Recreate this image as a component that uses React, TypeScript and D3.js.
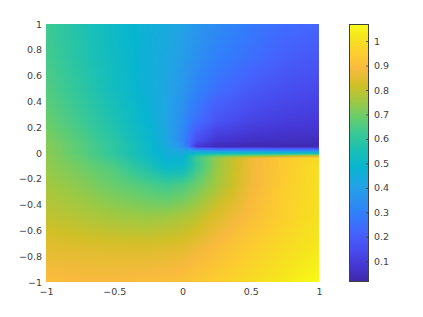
import React, { useRef, useEffect } from 'react';
import * as d3 from 'd3';

// grid nodes the values were read at
const gridX = [-1, -0.75, -0.5, -0.25, -0.12, 0, 0.05, 0.1, 0.25, 0.5, 0.75, 1];
const gridY = [1, 0.75, 0.5, 0.25, 0.1, 0.05, 0.03, 0, -0.02, -0.04, -0.1, -0.25, -0.5, -0.75, -1];

const row1 = [0.63, 0.57, 0.51, 0.46, 0.44, 0.41, 0.39, 0.37, 0.33, 0.28, 0.24, 0.22];
const row2 = [0.64, 0.58, 0.52, 0.46, 0.43, 0.39, 0.37, 0.35, 0.3, 0.25, 0.205, 0.18];
const row3 = [0.66, 0.6, 0.53, 0.46, 0.42, 0.37, 0.34, 0.31, 0.25, 0.19, 0.155, 0.135];
const row4 = [0.69, 0.63, 0.56, 0.48, 0.42, 0.34, 0.29, 0.25, 0.17, 0.12, 0.1, 0.09];
const row5 = [0.72, 0.66, 0.59, 0.5, 0.43, 0.32, 0.24, 0.16, 0.08, 0.06, 0.055, 0.05];
const row6 = [0.73, 0.67, 0.6, 0.51, 0.44, 0.35, 0.24, 0.08, 0.035, 0.03, 0.03, 0.03];
const row7 = [0.73, 0.67, 0.6, 0.51, 0.45, 0.4, 0.37, 0.3, 0.24, 0.23, 0.22, 0.22];
const row8 = [0.73, 0.67, 0.6, 0.51, 0.46, 0.43, 0.47, 0.49, 0.5, 0.5, 0.5, 0.5];
const row9 = [0.735, 0.68, 0.61, 0.52, 0.46, 0.45, 0.52, 0.58, 0.66, 0.7, 0.74, 0.78];
const row10 = [0.735, 0.68, 0.62, 0.53, 0.47, 0.47, 0.54, 0.62, 0.74, 0.87, 0.94, 0.99];
const row11 = [0.74, 0.7, 0.65, 0.56, 0.5, 0.5, 0.55, 0.61, 0.74, 0.87, 0.94, 1.0];
const row12 = [0.76, 0.73, 0.69, 0.65, 0.63, 0.65, 0.67, 0.69, 0.76, 0.87, 0.95, 1.0];
const row13 = [0.8, 0.78, 0.76, 0.75, 0.755, 0.77, 0.78, 0.79, 0.84, 0.9, 0.96, 1.01];
const row14 = [0.85, 0.845, 0.84, 0.84, 0.845, 0.85, 0.86, 0.87, 0.9, 0.95, 0.99, 1.03];
const row15 = [0.9, 0.89, 0.89, 0.9, 0.905, 0.91, 0.92, 0.93, 0.95, 0.99, 1.03, 1.07];
const rows = [row1, row2, row3, row4, row5, row6, row7, row8, row9, row10, row11, row12, row13, row14, row15];

const parula = ['#3e26a8', '#4537d5', '#484df0', '#4563fd', '#327cfc', '#2b91ef', '#20a5e3', '#08b5d0', '#19bfb6',
  '#37c897', '#64cd6f', '#9dc943', '#d1bf27', '#f8ba3d', '#fcce2e', '#f5e51d', '#f9fb15'];
const parulaStops = [0, 4, 8, 12, 16, 20, 24, 28, 32, 36, 40, 44, 48, 52, 56, 60, 63].map(i => i / 63);

const xTicks = [-1, -0.5, 0, 0.5, 1];
const yTicks = [-1, -0.8, -0.6, -0.4, -0.2, 0, 0.2, 0.4, 0.6, 0.8, 1];
const barTicks = [0.1, 0.2, 0.3, 0.4, 0.5, 0.6, 0.7, 0.8, 0.9, 1];
const valueRange = [0.015, 1.07];

const App = () => {
  const ref = useRef<SVGSVGElement>(null);

  useEffect(() => {
    const svg = d3.select(ref.current);
    svg.selectAll('*').remove();

    const x = d3.scaleLinear().domain([-1, 1]).range([46, 319]);
    const y = d3.scaleLinear().domain([-1, 1]).range([282, 24]);
    const barY = d3.scaleLinear().domain(valueRange).range([282, 24]);

    const color = d3.scaleLinear<string>()
      .domain(parulaStops.map(t => valueRange[0] + t * (valueRange[1] - valueRange[0])))
      .range(parula)
      .interpolate(d3.interpolateRgb)
      .clamp(true);

    // fractional position in the read grid, for interp shading
    const ix = d3.scaleLinear().domain(gridX).range(d3.range(gridX.length)).clamp(true);
    const iy = d3.scaleLinear().domain(gridY).range(d3.range(gridY.length)).clamp(true);
    const shade = (px: number, py: number) => {
      const fx = ix(px), fy = iy(py);
      const i = Math.min(Math.floor(fx), gridX.length - 2), j = Math.min(Math.floor(fy), gridY.length - 2);
      const tx = fx - i, ty = fy - j;
      const top = rows[j][i] * (1 - tx) + rows[j][i + 1] * tx;
      const bot = rows[j + 1][i] * (1 - tx) + rows[j + 1][i + 1] * tx;
      return top * (1 - ty) + bot * ty;
    };

    const field = svg.append('g').attr('shape-rendering', 'crispEdges');
    for (let sy = 24; sy < 282; sy += 1) {
      for (let sx = 46; sx < 319; sx += 2) {
        field.append('rect')
          .attr('x', sx).attr('y', sy).attr('width', Math.min(2, 319 - sx)).attr('height', 1)
          .attr('fill', color(shade(x.invert(sx + 1), y.invert(sy + 0.5))));
      }
    }

    const styleAxis = (g: any) => {
      g.select('.domain').remove();
      g.selectAll('text').attr('fill', '#404040').style('font-family', '"DejaVu Sans"').style('font-size', '9.5px');
    };

    svg.append('g').attr('transform', 'translate(0,282)')
      .call(d3.axisBottom(x).tickValues(xTicks).tickSize(0).tickPadding(6).tickFormat(d3.format('~g') as any))
      .call(styleAxis);
    svg.append('g').attr('transform', 'translate(46,0)')
      .call(d3.axisLeft(y).tickValues(yTicks).tickSize(0).tickPadding(4).tickFormat(d3.format('~g') as any))
      .call(styleAxis);

    // colorbar
    const bar = svg.append('g').attr('shape-rendering', 'crispEdges');
    for (let sy = 24; sy < 282; sy += 1) {
      bar.append('rect').attr('x', 349).attr('y', sy).attr('width', 19).attr('height', 1)
        .attr('fill', color(barY.invert(sy + 0.5)));
    }
    bar.append('rect').attr('x', 349.5).attr('y', 24.5).attr('width', 18.5).attr('height', 257)
      .attr('fill', 'none').attr('stroke', '#404040').attr('stroke-width', 1);

    svg.append('g').attr('transform', 'translate(368,0)')
      .call(d3.axisRight(barY).tickValues(barTicks).tickSize(-2).tickPadding(6).tickFormat(d3.format('~g') as any))
      .call(styleAxis)
      .call((g: any) => g.selectAll('line').attr('stroke', '#404040').attr('stroke-width', 0.8));
  }, []);

  return <svg ref={ref} width={423} height={317} style={{ position: 'absolute', left: 0, top: 0 }} />;
};

export default App;
